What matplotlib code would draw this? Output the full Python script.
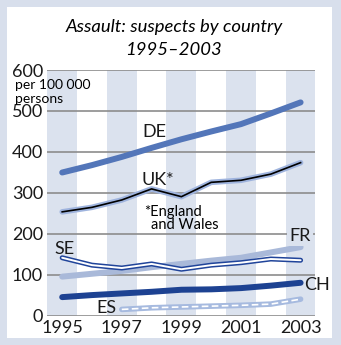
import numpy as np
import matplotlib.pyplot as plt
from matplotlib.patches import Rectangle

years = [1995, 1996, 1997, 1998, 1999, 2000, 2001, 2002, 2003]
de = [350, 368, 388, 410, 431, 450, 468, 494, 521]
uk = [254, 265, 283, 310, 291, 326, 331, 346, 374]
se = [142, 124, 117, 127, 114, 124, 130, 139, 136]
fr = [96, 103, 110, 119, 127, 135, 142, 155, 168]
ch = [46, 51, 55, 59, 64, 65, 68, 74, 81]
es = [np.nan, np.nan, 16, 20, 22, 24, 26, 29, 41]
yticks = [0, 100, 200, 300, 400, 500, 600]
xticks = [1995, 1997, 1999, 2001, 2003]

BG = '#d8dfec'
STRIPE = '#dbe2ee'
FONT = 'Lato'

plt.rcParams['font.family'] = FONT

fig = plt.figure(figsize=(3.41, 3.45), dpi=100)
fig.patch.set_facecolor(BG)
fig.patches.append(Rectangle((0.0214, 0.0203), 0.952, 0.9586, transform=fig.transFigure,
                             facecolor='white', edgecolor='none', zorder=-5))

ax = fig.add_axes([0.1387, 0.0841, 0.7865, 0.713])
ax.set_zorder(2)
ax.set_facecolor('none')
ax.set_xlim(1994.5, 2003.5)
ax.set_ylim(0, 600)

# alternate year stripes
for yr in xticks:
    ax.axvspan(yr - 0.5, yr + 0.5, color=STRIPE, lw=0, zorder=0)
for v in yticks:
    ax.axhline(v, color='#8c8c8c', lw=1.2, zorder=1)

ax.plot(years, de, color='#5376b9', lw=4.3, solid_capstyle='round', zorder=3)
ax.plot(years, fr, color='#a9b9d9', lw=4.3, solid_capstyle='round', zorder=3)
ax.plot(years, ch, color='#1d4292', lw=4.3, solid_capstyle='round', zorder=3)

# UK: black line with pale halo
ax.plot(years, uk, color='#9fb4de', lw=4, solid_capstyle='round', zorder=3)
ax.plot(years, uk, color='black', lw=1.2, zorder=4)

# SE: hollow dark blue line
ax.plot(years, se, color='#20449a', lw=3.6, solid_capstyle='round', zorder=4)
ax.plot(years, se, color='white', lw=1.4, solid_capstyle='round', zorder=5)

# ES: pale line with white dashes
ax.plot(years, es, color='#a6badf', lw=4, solid_capstyle='round', zorder=3)
ax.plot(years, es, color='white', lw=1.2, dashes=(4, 2), zorder=4)

lbl = dict(fontsize=13, color='#1a1a1a', zorder=6)
ax.text(1998.11, 449, 'DE', ha='center', va='center', **lbl)
ax.text(1998.2, 332, 'UK*', ha='center', va='center', **lbl)
ax.text(1997.75, 254, '*England', ha='left', va='center', fontsize=10.5, zorder=6)
ax.text(1997.98, 222, 'and Wales', ha='left', va='center', fontsize=10.5, zorder=6)
ax.text(1995.06, 163, 'SE', ha='center', va='center', **lbl)
ax.text(2002.98, 196, 'FR', ha='center', va='center',
        bbox=dict(facecolor=STRIPE, edgecolor='none', pad=1.5), **lbl)
ax.text(2003.12, 76, 'CH', ha='left', va='center', clip_on=False, **lbl)
ax.text(1996.81, 19, 'ES', ha='right', va='center', **lbl)

ax.set_yticks(yticks)
ax.set_xticks(xticks)
ax.tick_params(length=0, labelsize=13, pad=3, labelcolor='#1a1a1a')
for s in ax.spines.values():
    s.set_visible(False)

fig.text(0.045, 0.753, 'per 100 000', fontsize=10, va='center', ha='left', zorder=3)
fig.text(0.045, 0.713, 'persons', fontsize=10, va='center', ha='left', zorder=3)

fig.text(0.51, 0.922, 'Assault: suspects by country', fontsize=13.3, style='italic',
         ha='center', va='center')
fig.text(0.51, 0.855, '1995\u20132003', fontsize=13.3, style='italic',
         ha='center', va='center')

fig.savefig('out.png', dpi=100, facecolor=fig.get_facecolor())
